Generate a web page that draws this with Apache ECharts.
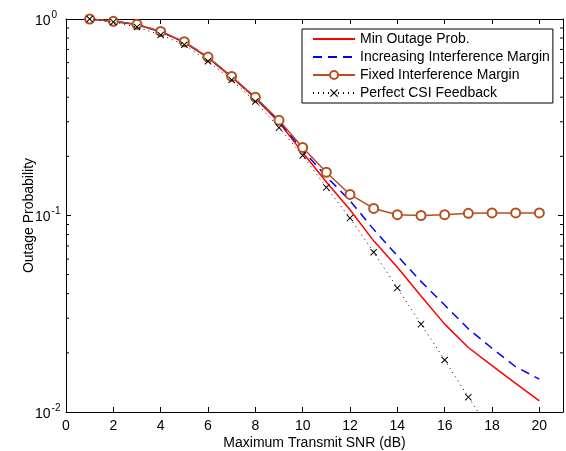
<!DOCTYPE html>
<html lang="en">
<head>
    <meta charset="UTF-8">
    <title>Outage Probability</title>
    <script src="https://cdn.jsdelivr.net/npm/echarts@6/dist/echarts.min.js"></script>
    <style>
        html, body { margin: 0; padding: 0; background: #fff; }
        #main { width: 566px; height: 451px; }
    </style>
</head>
<body>
<div id="main"></div>
<script>
    // data
    var snr = [1, 2, 3, 4, 5, 6, 7, 8, 9, 10, 11, 12, 13, 14, 15, 16, 17, 18, 19, 20];
    var minOutage = [1.0, 0.975, 0.935, 0.86, 0.76, 0.635, 0.505, 0.395, 0.298, 0.209, 0.148, 0.107,
        0.0743, 0.0545, 0.0389, 0.028, 0.0213, 0.0172, 0.014, 0.0114];
    var incMargin = [1.0, 0.975, 0.937, 0.863, 0.763, 0.638, 0.508, 0.398, 0.302, 0.215, 0.158, 0.119,
        0.085, 0.0623, 0.0462, 0.035, 0.0265, 0.0211, 0.017, 0.0147];
    var fixedMargin = [1.0, 0.973, 0.94, 0.865, 0.766, 0.64, 0.51, 0.40, 0.305, 0.222, 0.166, 0.128,
        0.1086, 0.101, 0.100, 0.101, 0.1026, 0.103, 0.103, 0.103];
    var csiSnr = [1, 2, 3, 4, 5, 6, 7, 8, 9, 10, 11, 12, 13, 14, 15, 16, 17, 18];
    var csiFeedback = [1.0, 0.965, 0.91, 0.83, 0.74, 0.61, 0.49, 0.38, 0.28, 0.202, 0.139, 0.097,
        0.065, 0.0428, 0.028, 0.0184, 0.0119, 0.0078];
    var minorTicks = [0.02, 0.03, 0.04, 0.05, 0.06, 0.07, 0.08, 0.09, 0.2, 0.3, 0.4, 0.5, 0.6, 0.7, 0.8, 0.9];
    var names = ['Min Outage Prob.', 'Increasing Interference Margin', 'Fixed Interference Margin', 'Perfect CSI Feedback'];

    function pairs(xs, ys) {
        return ys.map(function (y, i) { return [xs[i], y]; });
    }

    var font = 'Liberation Sans, Arial, Helvetica, sans-serif';
    var brown = '#b4501e';
    var cross = 'path://M0,1L1,0L5,4L9,0L10,1L6,5L10,9L9,10L5,6L1,10L0,9L4,5Z';

    var myChart = echarts.init(document.getElementById('main'));

    var xCommon = {
        type: 'value', min: 0, max: 21, interval: 2,
        axisLine: { show: true, onZero: false, lineStyle: { color: '#000', width: 1 } },
        axisTick: { show: true, inside: true, length: 5, lineStyle: { color: '#000' } },
        splitLine: { show: false }
    };
    var yCommon = {
        type: 'log', logBase: 10, min: 0.01, max: 1,
        axisLine: { show: true, onZero: false, lineStyle: { color: '#000', width: 1 } },
        axisTick: { show: true, inside: true, length: 5, lineStyle: { color: '#000' } },
        splitLine: { show: false }
    };

    var option = {
        animation: false,
        backgroundColor: '#fff',
        textStyle: { fontFamily: font },
        grid: { left: 66, right: 3, top: 19, bottom: 39, outerBoundsMode: 'none' },
        xAxis: [
            Object.assign({}, xCommon, {
                position: 'bottom',
                name: 'Maximum Transmit SNR (dB)',
                nameLocation: 'middle',
                nameGap: 24,
                nameMoveOverlap: false,
                nameTextStyle: { fontSize: 14, color: '#000', fontFamily: font },
                axisLabel: {
                    fontSize: 14, color: '#000', margin: 7, fontFamily: font,
                    formatter: function (v) { return v % 2 === 0 ? String(v) : ''; }
                }
            }),
            Object.assign({}, xCommon, { position: 'top', axisLabel: { show: false } })
        ],
        yAxis: [
            Object.assign({}, yCommon, {
                position: 'left',
                name: 'Outage Probability',
                nameLocation: 'middle',
                nameGap: 30,
                nameMoveOverlap: false,
                nameTextStyle: { fontSize: 14, color: '#000', fontFamily: font },
                axisLabel: {
                    color: '#000', margin: 31, align: 'left',
                    formatter: function (v) {
                        return '{b|10}{s|' + Math.round(Math.log10(v)) + '}';
                    },
                    rich: {
                        b: { fontSize: 14, color: '#000', fontFamily: font, padding: [4, 0, 0, 0] },
                        s: { fontSize: 10, color: '#000', fontFamily: font, padding: [0, 0, 8, 1] }
                    }
                }
            }),
            Object.assign({}, yCommon, { position: 'right', axisLabel: { show: false } })
        ],
        legend: {
            left: 302, top: 29,
            orient: 'vertical',
            data: [
                { name: names[0], itemStyle: { opacity: 0 } },
                { name: names[1], itemStyle: { opacity: 0 } },
                { name: names[2] },
                { name: names[3] }
            ],
            itemWidth: 42, itemHeight: 10, itemGap: 4,
            padding: [3, 3, 3, 10],
            borderColor: '#000', borderWidth: 1,
            backgroundColor: '#fff',
            textStyle: { fontSize: 14, color: '#000', fontFamily: font },
            selectedMode: false
        },
        series: [
            {
                name: names[0], type: 'line', data: pairs(snr, minOutage),
                symbol: 'none', lineStyle: { color: '#ff0000', width: 1.5 },
                itemStyle: { color: '#ff0000' }, z: 3
            },
            {
                name: names[1], type: 'line', data: pairs(snr, incMargin),
                symbol: 'none', lineStyle: { color: '#0000ff', width: 1.5, type: [9, 6] },
                itemStyle: { color: '#0000ff' }, z: 3
            },
            {
                name: names[2], type: 'line', data: pairs(snr, fixedMargin),
                symbol: 'emptyCircle', symbolSize: 9,
                lineStyle: { color: brown, width: 1.5 },
                itemStyle: { color: brown, borderColor: brown, borderWidth: 1.3 }, z: 4
            },
            {
                name: names[3], type: 'line', data: pairs(csiSnr, csiFeedback),
                symbol: cross, symbolSize: 7, clip: true,
                lineStyle: { color: '#000', width: 1, type: [1, 4] },
                itemStyle: { color: '#000' }, z: 5
            },
            {
                type: 'custom', silent: true, z: 6,
                data: minorTicks,
                renderItem: function (params, api) {
                    var cs = params.coordSys;
                    var y = api.coord([0, api.value(0)])[1];
                    var st = { stroke: '#000', lineWidth: 1 };
                    return {
                        type: 'group',
                        children: [
                            { type: 'line', shape: { x1: cs.x, y1: y, x2: cs.x + 3, y2: y }, style: st },
                            { type: 'line', shape: { x1: cs.x + cs.width, y1: y, x2: cs.x + cs.width - 3, y2: y }, style: st }
                        ]
                    };
                },
                encode: { y: 0 }
            }
        ]
    };

    myChart.setOption(option, true);
</script>
</body>
</html>
